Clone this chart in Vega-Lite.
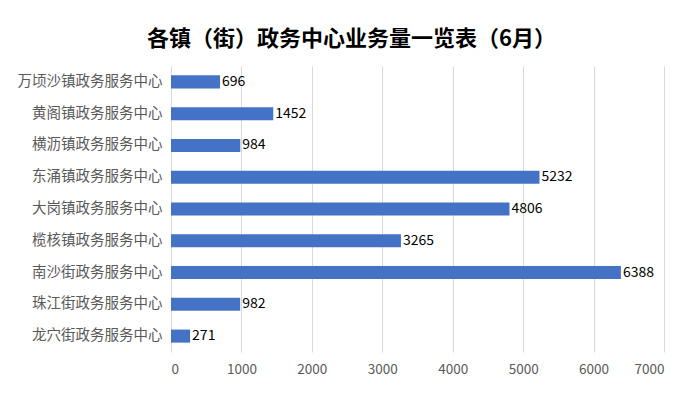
{
  "$schema": "https://vega.github.io/schema/vega-lite/v6.json",
  "autosize": "none",
  "width": 493,
  "height": 286,
  "padding": {"left": 171, "top": 66, "right": 32, "bottom": 43},
  "background": "white",
  "title": {
    "text": "各镇（街）政务中心业务量一览表（6月）",
    "font": "Noto Sans CJK SC",
    "fontSize": 22,
    "fontWeight": "bold",
    "color": "#000000",
    "anchor": "middle",
    "frame": "group",
    "dx": -66,
    "offset": 15
  },
  "data": {
    "values": [
      {"center": "万顷沙镇政务服务中心", "count": 696},
      {"center": "黄阁镇政务服务中心", "count": 1452},
      {"center": "横沥镇政务服务中心", "count": 984},
      {"center": "东涌镇政务服务中心", "count": 5232},
      {"center": "大岗镇政务服务中心", "count": 4806},
      {"center": "榄核镇政务服务中心", "count": 3265},
      {"center": "南沙街政务服务中心", "count": 6388},
      {"center": "珠江街政务服务中心", "count": 982},
      {"center": "龙穴街政务服务中心", "count": 271}
    ]
  },
  "encoding": {
    "y": {
      "field": "center",
      "type": "nominal",
      "sort": null,
      "scale": {"paddingInner": 0.59, "paddingOuter": 0.295},
      "axis": {
        "title": null,
        "ticks": false,
        "domain": false,
        "labelFont": "Noto Sans CJK SC",
        "labelFontSize": 14.5,
        "labelColor": "#595959",
        "labelPadding": 9
      }
    },
    "x": {
      "field": "count",
      "type": "quantitative",
      "scale": {"domain": [0, 7000], "nice": false},
      "axis": {
        "title": null,
        "values": [0, 1000, 2000, 3000, 4000, 5000, 6000, 7000],
        "format": "d",
        "ticks": false,
        "domain": false,
        "grid": true,
        "gridColor": "#d9d9d9",
        "gridWidth": 1,
        "labelFont": "Noto Sans CJK SC",
        "labelFontSize": 13.5,
        "labelColor": "#595959",
        "labelPadding": 10
      }
    }
  },
  "layer": [
    {"mark": {"type": "bar", "color": "#4472C4"}},
    {
      "mark": {
        "type": "text",
        "align": "left",
        "baseline": "middle",
        "dx": 2,
        "font": "Noto Sans CJK SC",
        "fontSize": 14,
        "color": "#000000"
      },
      "encoding": {"text": {"field": "count", "type": "quantitative", "format": "d"}}
    }
  ],
  "config": {"view": {"stroke": null}}
}
